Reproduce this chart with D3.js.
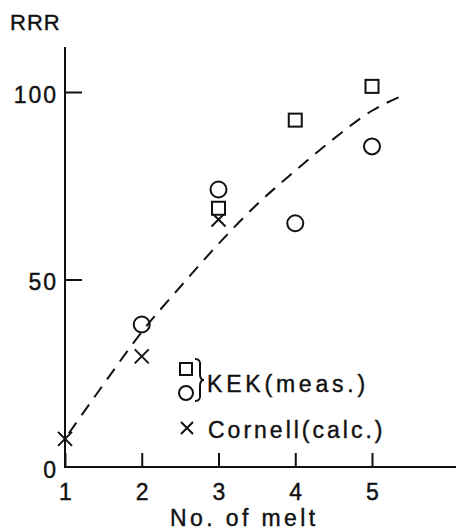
<!DOCTYPE html>
<html>
<head>
<meta charset="utf-8">
<script src="https://cdn.jsdelivr.net/npm/d3@7"></script>
<style>
  body { margin: 0; background: #fff; }
  text { font-family: "Liberation Sans", Arial, sans-serif; stroke: #111; stroke-width: 0.4px; }
</style>
</head>
<body>
<div id="chart"></div>
<script>
// values
var xTicks = [1, 2, 3, 4, 5];
var yTicks = [0, 50, 100];
var kekSquareX = [3, 4, 5];
var kekSquareY = [69, 92.5, 101.5];
var kekCircleX = [2, 3, 4, 5];
var kekCircleY = [38, 74, 65, 85.5];
var cornellX = [1, 2, 3];
var cornellY = [7.5, 29.5, 66];
var fitX = [1.05, 1.5, 2, 2.5, 3, 3.5, 4, 4.5, 5, 5.45];
var fitY = [9, 22, 36, 48, 59.5, 70, 79, 87.5, 95, 99.5];

var W = 457, H = 531;
var svg = d3.select('#chart').append('svg')
  .attr('width', W).attr('height', H);

var x = d3.scaleLinear().domain([1, 5]).range([65, 372]);
var y = d3.scaleLinear().domain([0, 100]).range([467, 92]);

var ink = '#111';
var font = '"Liberation Sans", Arial, sans-serif';
var fs = 23;

// axis lines
svg.append('line').attr('x1', x(1)).attr('x2', 456)
  .attr('y1', y(0)).attr('y2', y(0))
  .attr('stroke', ink).attr('stroke-width', 2);
svg.append('line').attr('x1', x(1)).attr('x2', x(1))
  .attr('y1', y(0) + 1).attr('y2', y(112))
  .attr('stroke', ink).attr('stroke-width', 2);

// x axis ticks point up into the plot
var xAxis = svg.append('g').attr('transform', 'translate(0,' + y(0) + ')')
  .call(d3.axisBottom(x).tickValues(xTicks).tickSize(-14).tickPadding(17)
    .tickFormat(d3.format('d')));
xAxis.select('.domain').remove();
xAxis.selectAll('line').attr('stroke', ink).attr('stroke-width', 2);
xAxis.selectAll('text').attr('font-size', fs).attr('fill', ink)
  .attr('font-family', font);

// y axis ticks point right
var yAxis = svg.append('g').attr('transform', 'translate(' + x(1) + ',0)')
  .call(d3.axisLeft(y).tickValues(yTicks).tickSize(-17).tickPadding(7)
    .tickFormat(d3.format('d')));
yAxis.select('.domain').remove();
yAxis.selectAll('line').attr('stroke', ink).attr('stroke-width', 2)
  .attr('display', function (d) { return d === 0 ? 'none' : null; });
yAxis.selectAll('text').attr('font-size', fs).attr('fill', ink)
  .attr('letter-spacing', 2).attr('dy', '0.45em')
  .attr('font-family', font);

// axis titles
svg.append('text').attr('x', 10).attr('y', 30).attr('fill', ink)
  .attr('font-size', 22).attr('letter-spacing', 1).text('RRR');
svg.append('text').attr('x', 170).attr('y', 526).attr('fill', ink)
  .attr('font-size', fs).attr('letter-spacing', 3.4).text('No. of melt');

// dashed fit curve
var fit = fitX.map(function (v, i) { return [v, fitY[i]]; });
svg.append('path').datum(fit)
  .attr('d', d3.line()
    .x(function (d) { return x(d[0]); })
    .y(function (d) { return y(d[1]); })
    .curve(d3.curveMonotoneX))
  .attr('fill', 'none').attr('stroke', ink).attr('stroke-width', 2)
  .attr('stroke-dasharray', '13,9');

// markers
var drawSquare = function (g, cx, cy, s) {
  g.append('rect').attr('x', cx - s / 2).attr('y', cy - s / 2)
    .attr('width', s).attr('height', s)
    .attr('fill', '#fff').attr('stroke', ink).attr('stroke-width', 2);
};
var drawCircle = function (g, cx, cy, r) {
  g.append('circle').attr('cx', cx).attr('cy', cy).attr('r', r)
    .attr('fill', 'none').attr('stroke', ink).attr('stroke-width', 2);
};
var drawCross = function (g, cx, cy, h) {
  g.append('path')
    .attr('d', 'M' + (cx - h) + ',' + (cy - h) + 'L' + (cx + h) + ',' + (cy + h) +
      'M' + (cx - h) + ',' + (cy + h) + 'L' + (cx + h) + ',' + (cy - h))
    .attr('stroke', ink).attr('stroke-width', 2).attr('fill', 'none');
};

var marks = svg.append('g');
cornellX.forEach(function (v, i) { drawCross(marks, x(v), y(cornellY[i]), 7); });
kekSquareX.forEach(function (v, i) { drawSquare(marks, x(v), y(kekSquareY[i]), 13); });
kekCircleX.forEach(function (v, i) { drawCircle(marks, x(v), y(kekCircleY[i]), 8); });

// legend
var lg = svg.append('g');
drawSquare(lg, 186, 369, 12);
drawCircle(lg, 186, 393, 7);
lg.append('path')
  .attr('d', 'M195,359 Q201,359 200,366 L200,374 Q200,380 204,380 Q200,380 200,386 L200,394 Q201,401 195,401')
  .attr('fill', 'none').attr('stroke', ink).attr('stroke-width', 2);
lg.append('text').attr('x', 207).attr('y', 392).attr('fill', ink)
  .attr('font-size', fs).attr('letter-spacing', 3.8).text('KEK(meas.)');
drawCross(lg, 187, 428, 6);
lg.append('text').attr('x', 208).attr('y', 438).attr('fill', ink)
  .attr('font-size', fs).attr('letter-spacing', 3).text('Cornell(calc.)');
</script>
</body>
</html>
